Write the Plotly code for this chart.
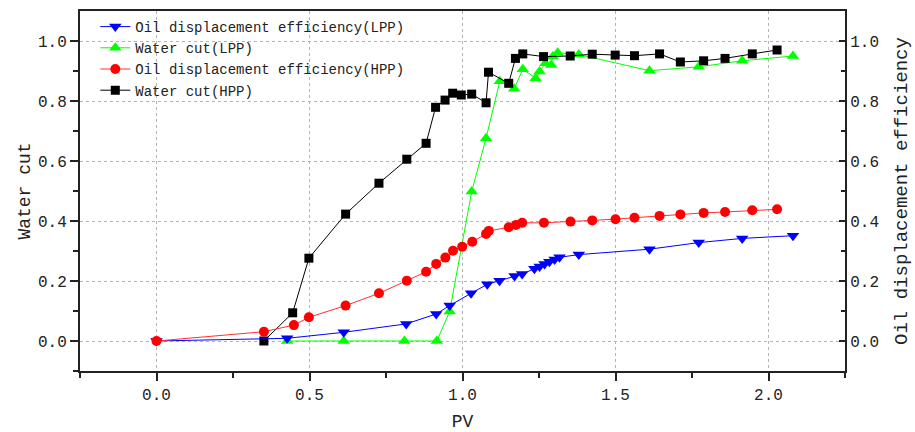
import plotly.graph_objects as go

# Pore volumes injected (PV) and measured responses
pv_lpp = [0.0, 0.427, 0.612, 0.816, 0.914, 0.958, 1.028, 1.081, 1.121, 1.170, 1.195,
          1.235, 1.252, 1.268, 1.284, 1.301, 1.317, 1.380, 1.611, 1.772, 1.914, 2.080]
eff_lpp = [0.0, 0.009, 0.029, 0.057, 0.090, 0.118, 0.159, 0.189, 0.201, 0.217, 0.223,
           0.241, 0.248, 0.257, 0.264, 0.272, 0.279, 0.288, 0.306, 0.328, 0.342, 0.351]

pv_wc_lpp = [0.427, 0.612, 0.810, 0.916, 0.958, 1.030, 1.077, 1.122, 1.169, 1.197,
             1.239, 1.252, 1.271, 1.290, 1.295, 1.311, 1.380, 1.611, 1.772, 1.914, 2.080]
wc_lpp = [0.0, 0.0, 0.0, 0.0, 0.098, 0.498, 0.676, 0.866, 0.841, 0.906,
          0.876, 0.898, 0.926, 0.920, 0.948, 0.961, 0.955, 0.901, 0.914, 0.934, 0.950]

pv_hpp = [0.0, 0.351, 0.449, 0.498, 0.618, 0.727, 0.818, 0.881, 0.914, 0.944, 0.969,
          0.999, 1.032, 1.077, 1.086, 1.151, 1.175, 1.195, 1.266, 1.353, 1.424, 1.500,
          1.562, 1.644, 1.712, 1.788, 1.858, 1.947, 2.028]
eff_hpp = [0.0, 0.031, 0.053, 0.079, 0.118, 0.159, 0.201, 0.231, 0.257, 0.278, 0.301,
           0.314, 0.331, 0.357, 0.367, 0.379, 0.387, 0.394, 0.394, 0.398, 0.402, 0.406,
           0.411, 0.417, 0.422, 0.427, 0.430, 0.436, 0.439]

pv_wc_hpp = [0.351, 0.445, 0.498, 0.618, 0.727, 0.818, 0.881, 0.912, 0.943, 0.968,
             0.996, 1.030, 1.077, 1.085, 1.151, 1.173, 1.197, 1.265, 1.352, 1.424,
             1.499, 1.562, 1.644, 1.712, 1.788, 1.858, 1.947, 2.028]
wc_hpp = [0.0, 0.094, 0.276, 0.423, 0.526, 0.606, 0.659, 0.779, 0.803, 0.826,
          0.820, 0.823, 0.794, 0.896, 0.859, 0.942, 0.957, 0.948, 0.950, 0.956,
          0.953, 0.951, 0.957, 0.930, 0.934, 0.942, 0.957, 0.970]

x_ticks = [0, 0.5, 1.0, 1.5, 2.0]
x_labels = ["0.0", "0.5", "1.0", "1.5", "2.0"]
y_ticks = [0, 0.2, 0.4, 0.6, 0.8, 1.0]
y_labels = ["0.0", "0.2", "0.4", "0.6", "0.8", "1.0"]

FONT = "Liberation Mono"
INK = "#222222"
GRID = "#b4b4b4"

fig = go.Figure()

fig.add_trace(go.Scatter(
    x=pv_lpp, y=eff_lpp, yaxis="y2", mode="lines+markers",
    name="Oil displacement efficiency(LPP)",
    line=dict(color="#0000ff", width=1),
    marker=dict(symbol="triangle-down", size=11, color="#0000ff")))
fig.add_trace(go.Scatter(
    x=pv_wc_lpp, y=wc_lpp, mode="lines+markers",
    name="Water cut(LPP)",
    line=dict(color="#00ff00", width=1),
    marker=dict(symbol="triangle-up", size=11, color="#00ff00")))
fig.add_trace(go.Scatter(
    x=pv_hpp, y=eff_hpp, yaxis="y2", mode="lines+markers",
    name="Oil displacement efficiency(HPP)",
    line=dict(color="#ff3030", width=1),
    marker=dict(symbol="circle", size=10, color="#ff0000")))
fig.add_trace(go.Scatter(
    x=pv_wc_hpp, y=wc_hpp, mode="lines+markers",
    name="Water cut(HPP)",
    line=dict(color="#000000", width=1),
    marker=dict(symbol="square", size=9, color="#000000")))

fig.update_layout(
    width=915, height=432,
    margin=dict(l=80, r=70, t=11, b=61, autoexpand=False),
    paper_bgcolor="white", plot_bgcolor="white",
    font=dict(family=FONT, size=16, color=INK),
    showlegend=True,
    legend=dict(x=0.02, y=1, xanchor="left", yanchor="top",
                bgcolor="rgba(0,0,0,0)", font=dict(family=FONT, size=14, color=INK),
                tracegroupgap=0, itemwidth=30),
    xaxis=dict(
        range=[-0.25, 2.25], tickvals=x_ticks, ticktext=x_labels,
        automargin=False,
        showline=True, linecolor=INK, linewidth=2, mirror=True,
        ticks="outside", ticklen=8, tickwidth=1.5, tickcolor=INK,
        minor=dict(tickvals=[-0.25, 0.25, 0.75, 1.25, 1.75, 2.25], ticks="outside",
                   ticklen=5, tickcolor=INK, showgrid=False),
        showgrid=True, gridcolor=GRID, griddash="dot", gridwidth=1,
        zeroline=False,
        title=dict(text="PV", font=dict(family=FONT, size=18), standoff=16),
    ),
    yaxis=dict(
        range=[-0.1, 1.1], tickvals=y_ticks, ticktext=y_labels,
        automargin=False,
        showline=True, linecolor=INK, linewidth=2,
        ticks="outside", ticklen=8, tickwidth=1.5, tickcolor=INK,
        minor=dict(tickvals=[-0.1, 0.1, 0.3, 0.5, 0.7, 0.9], ticks="outside",
                   ticklen=5, tickcolor=INK, showgrid=False),
        showgrid=True, gridcolor=GRID, griddash="dot", gridwidth=1,
        zeroline=False,
        title=dict(text="Water cut", font=dict(family=FONT, size=18), standoff=3),
    ),
    yaxis2=dict(
        overlaying="y", side="right",
        range=[-0.1, 1.1], tickvals=y_ticks, ticktext=y_labels,
        automargin=False,
        showline=True, linecolor=INK, linewidth=2,
        ticks="inside", ticklen=6, tickwidth=1.5, tickcolor=INK,
        minor=dict(tickvals=[-0.1, 0.1, 0.3, 0.5, 0.7, 0.9], ticks="inside",
                   ticklen=4, tickcolor=INK, showgrid=False),
        showgrid=False, zeroline=False,
        title=dict(text="Oil displacement efficiency", font=dict(family=FONT, size=19),
                   standoff=16),
    ),
)

fig.write_html("out.html")
